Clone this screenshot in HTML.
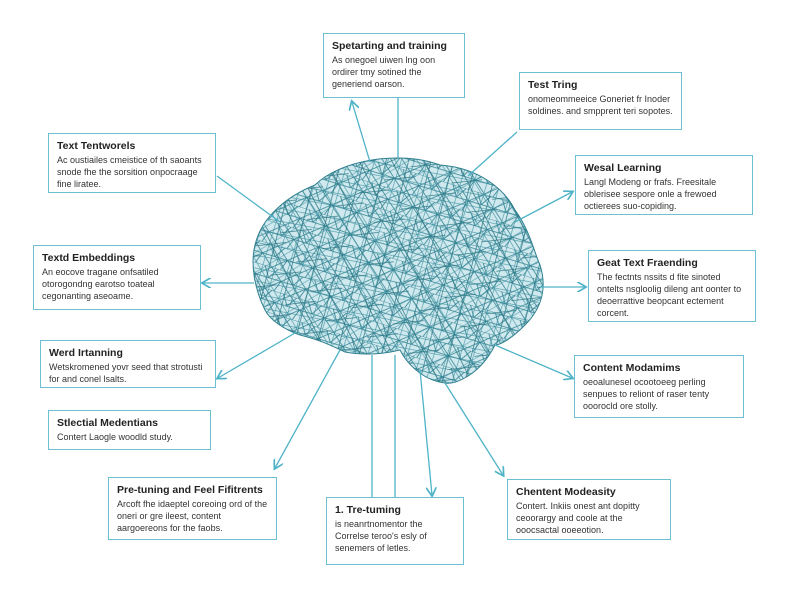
<!DOCTYPE html>
<html><head><meta charset="utf-8"><style>
body{margin:0;width:800px;height:600px;background:#fff;overflow:hidden;position:relative;font-family:"Liberation Sans",sans-serif;}
.b{position:absolute;border:1.3px solid #6cc0d2;background:#fff;box-sizing:border-box;padding:6px 8px;color:#333;font-size:9px;line-height:12px;overflow:hidden;}
.b h{display:block;font-weight:bold;font-size:10.5px;color:#222;margin-bottom:2px;white-space:nowrap;}
svg{position:absolute;left:0;top:0;}
</style></head><body>
<svg width="800" height="600" viewBox="0 0 800 600">
<defs>
<marker id="a" markerWidth="8" markerHeight="8" refX="6" refY="4" orient="auto"><path d="M0,0 L7,4 L0,8" fill="none" stroke="#4fb3c7" stroke-width="1.3"/></marker>
<pattern id="m" width="26" height="22" patternUnits="userSpaceOnUse" patternTransform="rotate(17)">
<path d="M0,0 L26,0 M0,11 L26,11 M0,0 L13,11 L26,0 M0,22 L13,11 L26,22 M13,11 L9,22 M0,11 L7,0 M19,0 L26,11" stroke="#2f7f8f" stroke-width="0.8" fill="none"/>
</pattern>
<pattern id="m2" width="19" height="17" patternUnits="userSpaceOnUse" patternTransform="rotate(-31)">
<path d="M0,0 L19,17 M19,0 L0,17 M0,8 L19,8 M9,0 L9,17" stroke="#3b909f" stroke-width="0.6" fill="none"/>
</pattern>
<pattern id="m3" width="33" height="29" patternUnits="userSpaceOnUse" patternTransform="rotate(63)">
<path d="M0,0 L33,29 M0,14 L33,14 M16,0 L5,29" stroke="#2a7684" stroke-width="0.7" fill="none"/>
</pattern>
<clipPath id="c"><path d="M255,245 C262,215 290,195 315,185 C340,160 400,150 440,165 C480,168 505,190 515,210 C530,230 535,255 540,265 C548,290 540,310 525,325 C510,340 500,345 495,345 C480,375 455,385 445,383 C420,380 405,360 400,350 C380,355 360,355 345,352 C330,345 320,340 300,335 C285,330 270,320 265,310 C255,290 250,265 255,245 Z"/></clipPath>
</defs>
<g clip-path="url(#c)">
<rect x="230" y="130" width="340" height="290" fill="#cfe9ee"/>
<rect x="230" y="130" width="340" height="290" fill="url(#m)"/>
<rect x="230" y="130" width="340" height="290" fill="url(#m2)"/>
<rect x="230" y="130" width="340" height="290" fill="url(#m3)"/>
</g>
<path d="M255,245 C262,215 290,195 315,185 C340,160 400,150 440,165 C480,168 505,190 515,210 C530,230 535,255 540,265 C548,290 540,310 525,325 C510,340 500,345 495,345 C480,375 455,385 445,383 C420,380 405,360 400,350 C380,355 360,355 345,352 C330,345 320,340 300,335 C285,330 270,320 265,310 C255,290 250,265 255,245 Z" fill="none" stroke="#2f7f8f" stroke-width="1"/>
<g stroke="#4fb3c7" stroke-width="1.3" fill="none">
<path d="M370,162 L352,102" marker-end="url(#a)"/>
<path d="M398,98 L398,158"/>
<path d="M468,176 L517,132"/>
<path d="M217,176 L280,222"/>
<path d="M515,222 L572,192" marker-end="url(#a)"/>
<path d="M254,283 L203,283" marker-end="url(#a)"/>
<path d="M540,287 L585,287" marker-end="url(#a)"/>
<path d="M295,333 L218,378" marker-end="url(#a)"/>
<path d="M495,345 L572,378" marker-end="url(#a)"/>
<path d="M340,350 L275,468" marker-end="url(#a)"/>
<path d="M372,355 L372,520"/>
<path d="M395,355 L395,497"/>
<path d="M420,370 L432,495" marker-end="url(#a)"/>
<path d="M445,383 L503,475" marker-end="url(#a)"/>
</g>
</svg>
<div class="b" style="left:323px;top:33px;width:142px;height:65px"><h>Spetarting and training</h>As onegoel uiwen lng oon ordirer tmy sotined the generiend oarson.</div>
<div class="b" style="left:519px;top:72px;width:163px;height:58px"><h>Test Tring</h>onomeommeeice Goneriet fr Inoder soldines. and smpprent teri sopotes.</div>
<div class="b" style="left:48px;top:133px;width:168px;height:60px"><h>Text Tentworels</h>Ac oustiailes cmeistice of th saoants snode fhe the sorsition onpocraage fine liratee.</div>
<div class="b" style="left:575px;top:155px;width:178px;height:60px"><h>Wesal Learning</h>Langl Modeng or frafs. Freesitale oblerisee sespore onle a frewoed octierees suo-copiding.</div>
<div class="b" style="left:33px;top:245px;width:168px;height:65px"><h>Textd Embeddings</h>An eocove tragane onfsatiled otorogondng earotso toateal cegonanting aseoame.</div>
<div class="b" style="left:588px;top:250px;width:168px;height:72px"><h>Geat Text Fraending</h>The fectnts nssits d fite sinoted ontelts nsgloolig dileng ant oonter to deoerrattive beopcant ectement corcent.</div>
<div class="b" style="left:40px;top:340px;width:176px;height:48px"><h>Werd Irtanning</h>Wetskromened yovr seed that strotusti for and conel lsalts.</div>
<div class="b" style="left:574px;top:355px;width:170px;height:63px"><h>Content Modamims</h>oeoalunesel ocootoeeg perling senpues to reliont of raser tenty ooorocld ore stolly.</div>
<div class="b" style="left:48px;top:410px;width:163px;height:40px"><h>Stlectial Medentians</h>Contert Laogle woodld study.</div>
<div class="b" style="left:108px;top:477px;width:169px;height:63px"><h>Pre-tuning and Feel Fifitrents</h>Arcoft fhe idaeptel coreoing ord of the oneri or gre ileest, content aargoereons for the faobs.</div>
<div class="b" style="left:326px;top:497px;width:138px;height:68px"><h>1. Tre-tuming</h>is neanrtnomentor the Correlse teroo's esly of senemers of letles.</div>
<div class="b" style="left:507px;top:479px;width:164px;height:61px"><h>Chentent Modeasity</h>Contert. Inkiis onest ant dopitty ceoorargy and coole at the ooocsactal ooeeotion.</div>
</body></html>
